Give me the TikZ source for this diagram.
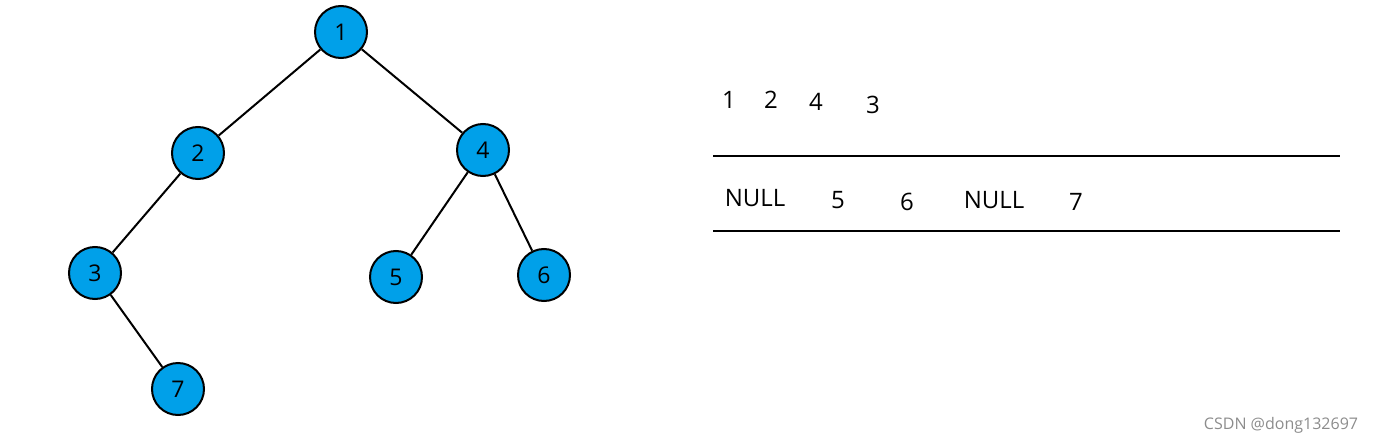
\documentclass[tikz,border=0pt]{standalone}
\usepackage{fontspec}
\setmainfont{Open Sans}
\definecolor{nodeblue}{HTML}{00A0E9}
\begin{document}
\begin{tikzpicture}[x=1pt,y=-1pt,
  tn/.style={circle,draw=black,line width=2pt,fill=nodeblue,minimum size=52pt,inner sep=0pt,font=\fontsize{23}{26}\selectfont},
  edge/.style={line width=2pt},
  lbl/.style={inner sep=0pt,font=\fontsize{24}{28}\selectfont},
  rule/.style={line width=2.5pt}]
\useasboundingbox (0,0) rectangle (1373,444);
\node[tn] (n1) at (341,32) {1};
\node[tn] (n2) at (198,153) {2};
\node[tn] (n4) at (483,150) {4};
\node[tn] (n3) at (95,273) {3};
\node[tn] (n5) at (396,277) {5};
\node[tn] (n6) at (544,275) {6};
\node[tn] (n7) at (178,389) {7};
\draw[edge] (n1) -- (n2);
\draw[edge] (n1) -- (n4);
\draw[edge] (n2) -- (n3);
\draw[edge] (n3) -- (n7);
\draw[edge] (n4) -- (n5);
\draw[edge] (n4) -- (n6);
\node[lbl] (q1) at (729,100) {1};
\node[lbl] (q2) at (771,100) {2};
\node[lbl] (q4) at (816,102) {4};
\node[lbl] (q3) at (873,105) {3};
\coordinate (r1a) at (713,156);
\coordinate (r1b) at (1340,156);
\coordinate (r2a) at (713,231);
\coordinate (r2b) at (1340,231);
\draw[rule] (r1a) -- (r1b);
\draw[rule] (r2a) -- (r2b);
\node[lbl] (s1) at (755,198) {NULL};
\node[lbl] (s2) at (838,200) {5};
\node[lbl] (s3) at (907,202) {6};
\node[lbl] (s4) at (994,200) {NULL};
\node[lbl] (s5) at (1076,202) {7};
\node[inner sep=0pt,text=black!45,font=\fontsize{16}{18}\selectfont] (wm) at (1281,425) {CSDN @dong132697};
\end{tikzpicture}
\end{document}
